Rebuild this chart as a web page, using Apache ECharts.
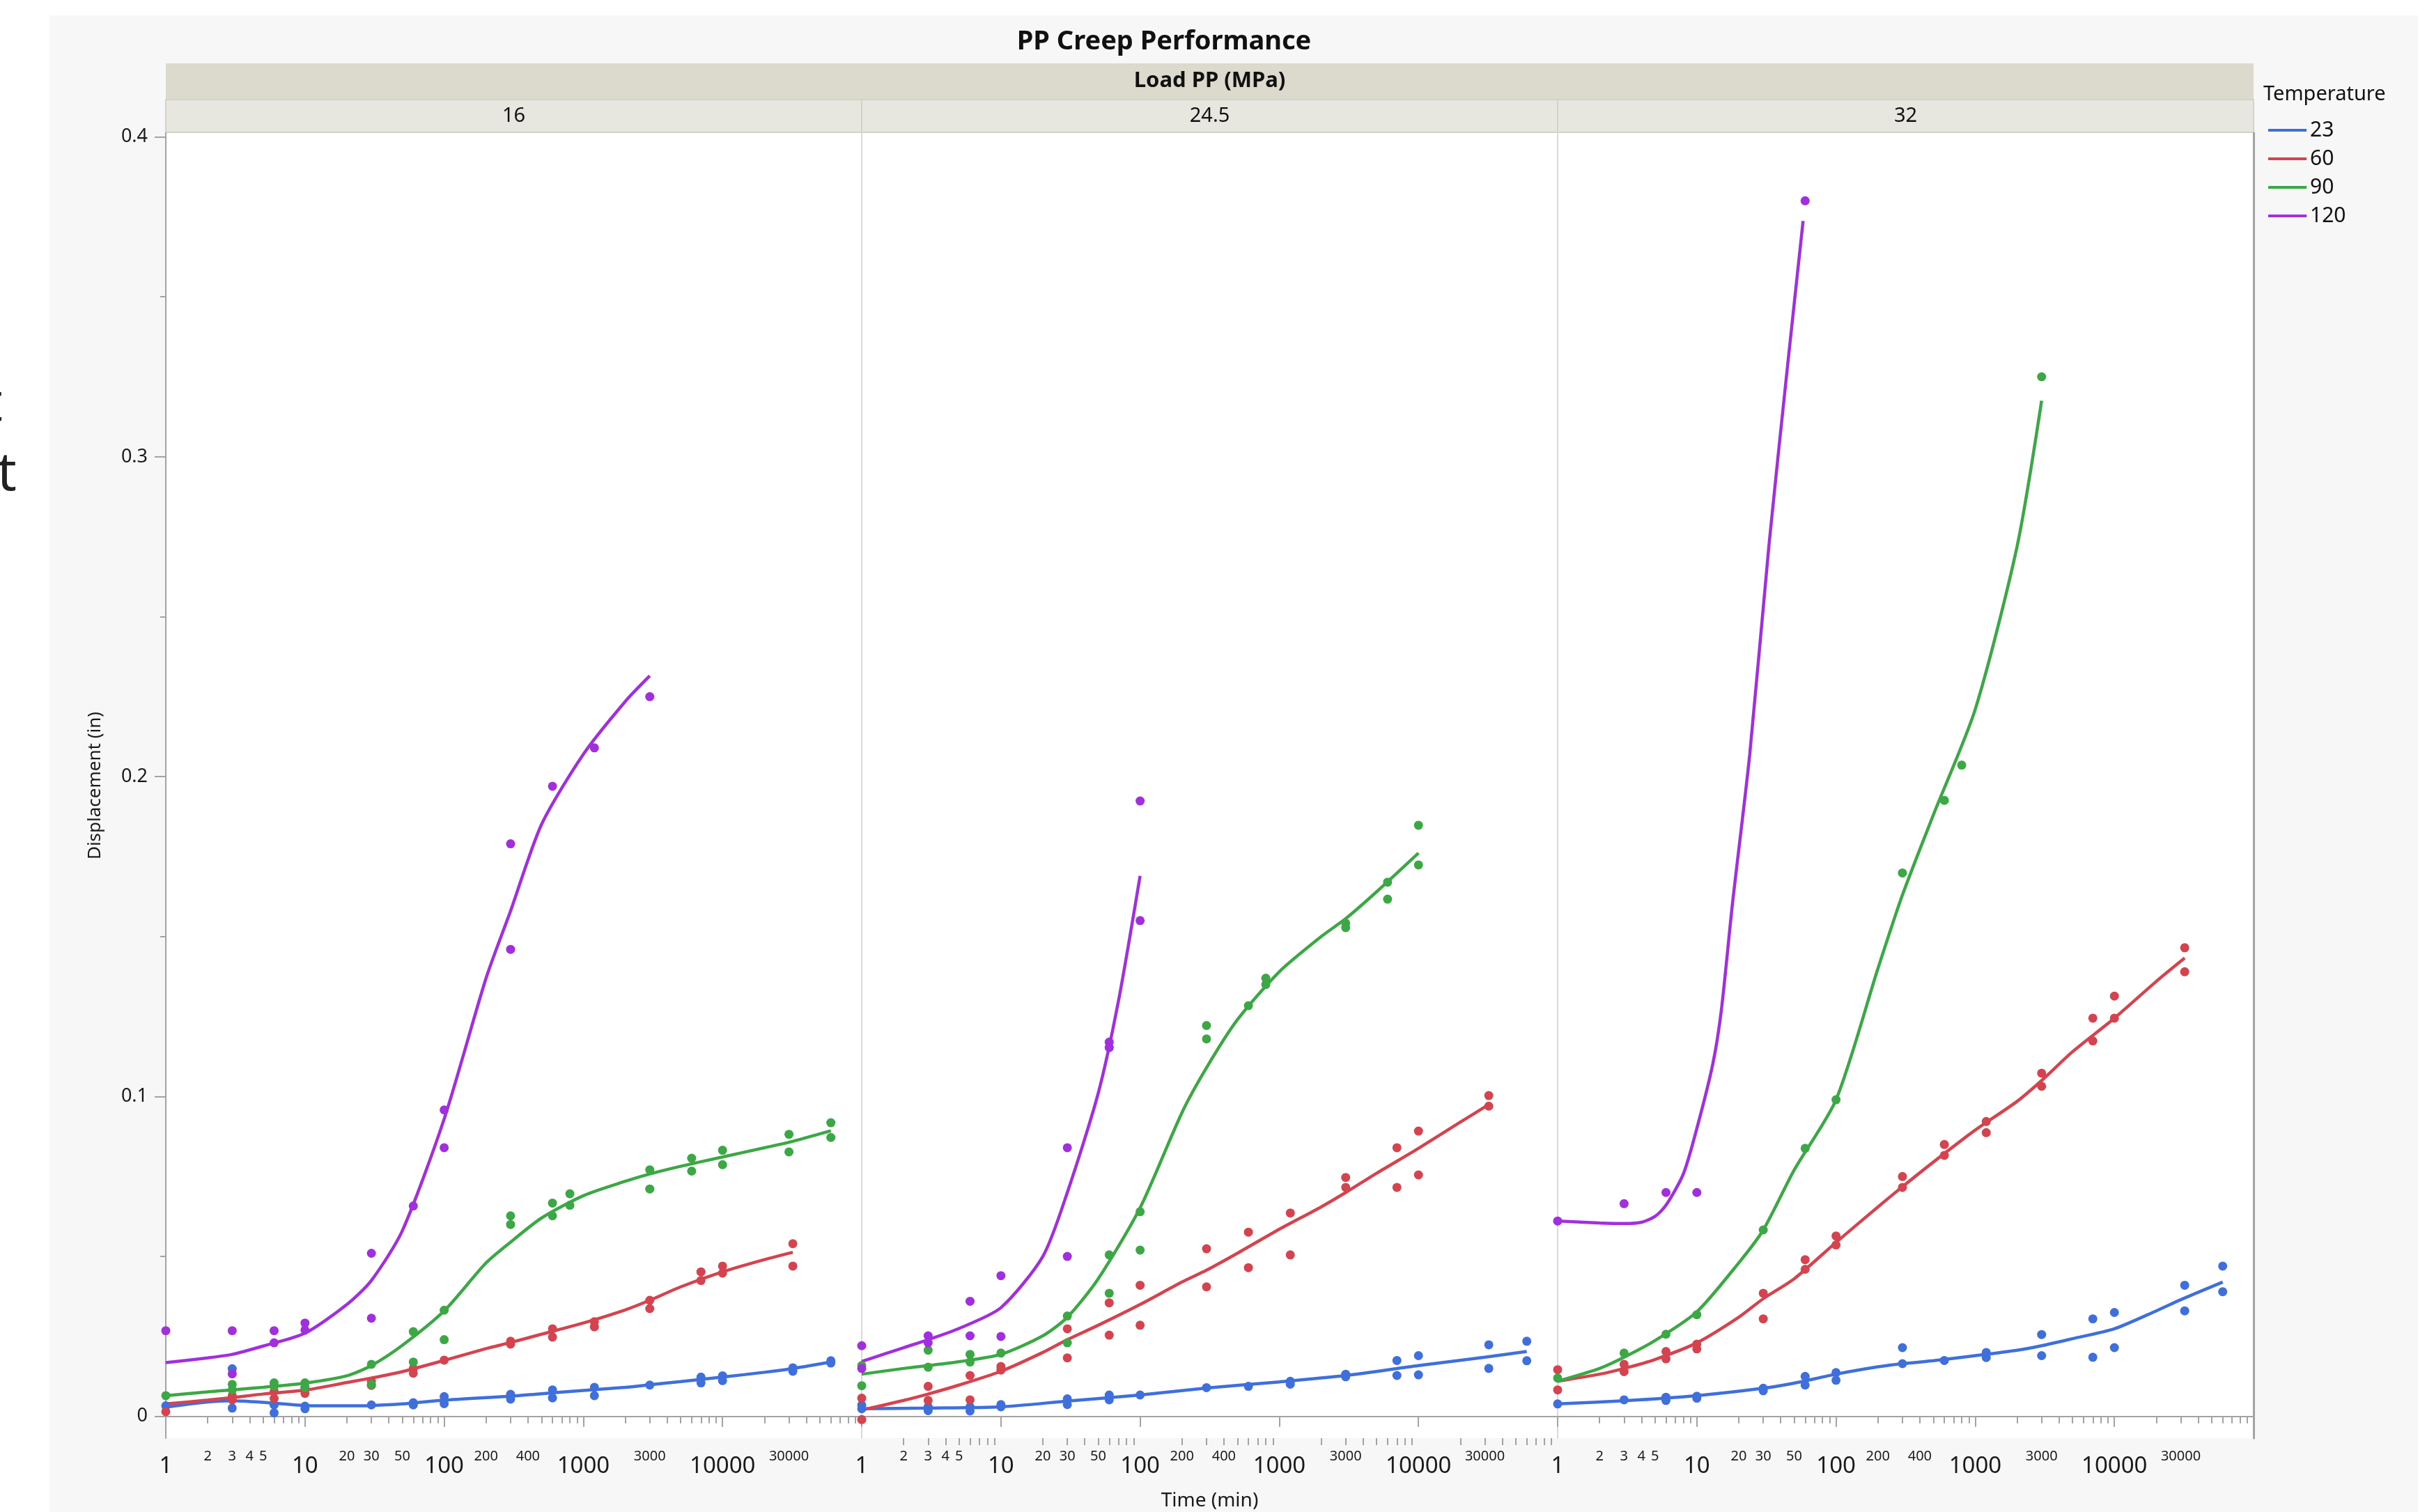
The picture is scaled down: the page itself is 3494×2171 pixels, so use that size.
<!DOCTYPE html>
<html>
<head>
<meta charset="utf-8">
<title>PP Creep Performance</title>
<script src="https://cdn.jsdelivr.net/npm/echarts@6/dist/echarts.min.js"></script>
<style>
  html, body { margin: 0; padding: 0; background: #fff; }
  #chart { width: 3494px; height: 2171px; }
</style>
</head>
<body>
<div id="chart"></div>
<script>
// facets and groups
const loads = ['16', '24.5', '32'];
const temps = ['23', '60', '90', '120'];
const tempColors = ['#3f6fdc', '#d5434f', '#3ba845', '#a22fdf'];

// axis ticks / labels
const bigLabels = [1, 10, 100, 1000, 10000];
const smallLabels = [2, 3, 4, 5, 20, 30, 50, 200, 400, 3000, 30000];
const majorTicks = [1, 10, 100, 1000, 10000, 100000];
const minorTicks = [2, 3, 4, 5, 6, 7, 8, 9, 20, 30, 40, 50, 60, 70, 80, 90,
  200, 300, 400, 500, 600, 700, 800, 900, 2000, 3000, 4000, 5000, 6000, 7000, 8000, 9000,
  20000, 30000, 40000, 50000, 60000, 70000, 80000, 90000];
const yMajor = [0, 0.1, 0.2, 0.3, 0.4];
const yMinor = [0.05, 0.15, 0.25, 0.35];

// ---- Load 16 MPa : measured points [time, displacement] ----
const pts16_23 = [[1,0.0033],[3,0.0149],[3,0.0026],[6,0.0036],[6,0.0011],[10,0.0032],[10,0.0024],[30,0.0036],[60,0.0043],[60,0.0036],[100,0.0062],[100,0.0040],[300,0.0069],[300,0.0054],[600,0.0083],[600,0.0058],[1200,0.0091],[1200,0.0065],[3000,0.0098],[7000,0.0123],[7000,0.0105],[10000,0.0127],[10000,0.0112],[32000,0.0152],[32000,0.0141],[60000,0.0174],[60000,0.0167]];
const pts16_60 = [[1,0.0015],[3,0.0065],[3,0.0052],[6,0.0078],[6,0.0056],[10,0.0090],[10,0.0072],[30,0.0110],[30,0.0097],[60,0.0150],[60,0.0135],[100,0.0176],[300,0.0235],[300,0.0226],[600,0.0274],[600,0.0248],[1200,0.0296],[1200,0.0280],[3000,0.0363],[3000,0.0337],[7000,0.0452],[7000,0.0425],[10000,0.0470],[10000,0.0448],[32000,0.0540],[32000,0.0470]];
const pts16_90 = [[1,0.0065],[3,0.0100],[3,0.0083],[6,0.0105],[6,0.0095],[10,0.0105],[10,0.0090],[30,0.0163],[30,0.0100],[60,0.0265],[60,0.0170],[100,0.0332],[100,0.0240],[300,0.0627],[300,0.0600],[600,0.0667],[600,0.0627],[800,0.0696],[800,0.0660],[3000,0.0771],[3000,0.0711],[6000,0.0807],[6000,0.0767],[10000,0.0832],[10000,0.0787],[30000,0.0882],[30000,0.0827],[60000,0.0918],[60000,0.0872]];
const pts16_120 = [[1,0.0268],[3,0.0268],[3,0.0133],[6,0.0268],[6,0.0230],[10,0.0292],[10,0.0270],[30,0.0510],[30,0.0307],[60,0.0658],[100,0.0958],[100,0.0840],[300,0.1790],[300,0.1460],[600,0.1970],[1200,0.2090],[3000,0.2250]];
// fitted curves
const fit16_23 = [[1,0.0029],[2,0.0045],[3,0.0049],[5,0.0044],[10,0.0034],[20,0.0033],[30,0.0034],[50,0.0039],[100,0.0051],[200,0.0059],[300,0.0063],[500,0.0071],[1000,0.0081],[2000,0.0091],[3000,0.0099],[5000,0.0109],[10000,0.0123],[20000,0.0138],[30000,0.0148],[60000,0.0170]];
const fit16_60 = [[1,0.0039],[2,0.0051],[3,0.0059],[5,0.0070],[10,0.0082],[20,0.0106],[30,0.0120],[50,0.0140],[100,0.0175],[200,0.0212],[300,0.0231],[500,0.0257],[1000,0.0292],[2000,0.0333],[3000,0.0363],[5000,0.0405],[10000,0.0452],[20000,0.0490],[32000,0.0513]];
const fit16_90 = [[1,0.0065],[2,0.0077],[3,0.0083],[5,0.0091],[10,0.0104],[20,0.0127],[30,0.0159],[50,0.0222],[100,0.0330],[200,0.0480],[300,0.0545],[500,0.0620],[1000,0.0690],[2000,0.0735],[3000,0.0758],[5000,0.0782],[10000,0.0811],[20000,0.0840],[30000,0.0857],[60000,0.0893]];
const fit16_120 = [[1,0.0168],[2,0.0183],[3,0.0194],[5,0.0220],[10,0.0260],[20,0.0350],[30,0.0425],[50,0.0580],[100,0.0930],[200,0.1370],[300,0.1580],[500,0.1850],[1000,0.2070],[2000,0.2235],[3000,0.2315]];

// ---- Load 24.5 MPa ----
const pts245_23 = [[1,0.0035],[1,0.0024],[3,0.0030],[3,0.0018],[6,0.0030],[6,0.0017],[10,0.0037],[10,0.0030],[30,0.0055],[30,0.0037],[60,0.0067],[60,0.0052],[100,0.0067],[300,0.0090],[600,0.0094],[1200,0.0110],[1200,0.0101],[3000,0.0132],[3000,0.0124],[7000,0.0175],[7000,0.0128],[10000,0.0190],[10000,0.0130],[32000,0.0224],[32000,0.0150],[60000,0.0235],[60000,0.0174]];
const pts245_60 = [[1,0.0057],[1,-0.0010],[3,0.0094],[3,0.0050],[6,0.0128],[6,0.0052],[10,0.0156],[10,0.0145],[30,0.0274],[30,0.0183],[60,0.0355],[60,0.0254],[100,0.0410],[100,0.0285],[300,0.0524],[300,0.0405],[600,0.0576],[600,0.0465],[1200,0.0636],[1200,0.0505],[3000,0.0747],[3000,0.0716],[7000,0.0840],[7000,0.0716],[10000,0.0892],[10000,0.0755],[32000,0.1003],[32000,0.0970]];
const pts245_90 = [[1,0.0159],[1,0.0096],[3,0.0207],[3,0.0154],[6,0.0194],[6,0.0170],[10,0.0198],[30,0.0314],[30,0.0230],[60,0.0505],[60,0.0385],[100,0.0640],[100,0.0520],[300,0.1222],[300,0.1180],[600,0.1284],[800,0.1370],[800,0.1350],[3000,0.1542],[3000,0.1528],[6000,0.1670],[6000,0.1617],[10000,0.1848],[10000,0.1724]];
const pts245_120 = [[1,0.0221],[1,0.0150],[3,0.0252],[3,0.0230],[6,0.0360],[6,0.0252],[10,0.0440],[10,0.0250],[30,0.0840],[30,0.0500],[60,0.1170],[60,0.1153],[100,0.1924],[100,0.1550]];
const fit245_23 = [[1,0.0024],[3,0.0026],[10,0.0030],[30,0.0048],[100,0.0067],[300,0.0089],[1000,0.0108],[3000,0.0128],[10000,0.0159],[30000,0.0185],[60000,0.0203]];
const fit245_60 = [[1,0.0020],[2,0.0050],[3,0.0070],[5,0.0098],[10,0.0141],[20,0.0200],[30,0.0240],[50,0.0285],[100,0.0350],[200,0.0420],[300,0.0457],[500,0.0510],[1000,0.0585],[2000,0.0655],[3000,0.0700],[5000,0.0760],[10000,0.0838],[20000,0.0920],[32000,0.0975]];
const fit245_90 = [[1,0.0132],[2,0.0150],[3,0.0159],[5,0.0171],[10,0.0194],[20,0.0252],[30,0.0310],[50,0.0430],[100,0.0652],[200,0.0950],[300,0.1090],[500,0.1240],[1000,0.1390],[2000,0.1500],[3000,0.1556],[5000,0.1640],[10000,0.1761]];
const fit245_120 = [[1,0.0172],[2,0.0215],[3,0.0240],[5,0.0275],[10,0.0340],[20,0.0500],[30,0.0700],[50,0.1010],[70,0.1300],[100,0.1690]];

// ---- Load 32 MPa ----
const pts32_23 = [[1,0.0039],[3,0.0052],[6,0.0060],[6,0.0050],[10,0.0063],[10,0.0057],[30,0.0088],[30,0.0080],[60,0.0125],[60,0.0098],[100,0.0137],[100,0.0113],[300,0.0215],[300,0.0165],[600,0.0175],[1200,0.0200],[1200,0.0184],[3000,0.0256],[3000,0.0190],[7000,0.0305],[7000,0.0185],[10000,0.0325],[10000,0.0215],[32000,0.0410],[32000,0.0330],[60000,0.0470],[60000,0.0390]];
const pts32_60 = [[1,0.0146],[1,0.0083],[3,0.0163],[3,0.0140],[6,0.0203],[6,0.0180],[10,0.0226],[10,0.0211],[30,0.0385],[30,0.0305],[60,0.0490],[60,0.0460],[100,0.0564],[100,0.0536],[300,0.0750],[300,0.0716],[600,0.0850],[600,0.0816],[1200,0.0922],[1200,0.0887],[3000,0.1073],[3000,0.1032],[7000,0.1245],[7000,0.1174],[10000,0.1314],[10000,0.1245],[32000,0.1465],[32000,0.1390]];
const pts32_90 = [[1,0.0120],[3,0.0198],[6,0.0257],[10,0.0318],[30,0.0583],[60,0.0838],[100,0.0990],[300,0.1699],[600,0.1926],[800,0.2036],[3000,0.3250]];
const pts32_120 = [[1,0.0611],[3,0.0665],[6,0.0700],[10,0.0700],[60,0.3800]];
const fit32_23 = [[1,0.0039],[3,0.0049],[10,0.0065],[30,0.0088],[50,0.0104],[100,0.0132],[200,0.0155],[300,0.0165],[500,0.0174],[1000,0.0190],[2000,0.0207],[3000,0.0221],[5000,0.0243],[10000,0.0274],[20000,0.0330],[30000,0.0365],[60000,0.0420]];
const fit32_60 = [[1,0.0110],[2,0.0132],[3,0.0150],[5,0.0178],[10,0.0230],[20,0.0310],[30,0.0368],[50,0.0430],[100,0.0544],[200,0.0655],[300,0.0718],[500,0.0795],[1000,0.0895],[2000,0.0985],[3000,0.1050],[5000,0.1140],[10000,0.1245],[20000,0.1360],[32000,0.1433]];
const fit32_90 = [[1,0.0110],[2,0.0150],[3,0.0185],[5,0.0237],[10,0.0327],[20,0.0480],[30,0.0583],[50,0.0770],[100,0.0990],[200,0.1400],[300,0.1630],[500,0.1880],[1000,0.2210],[2000,0.2720],[3000,0.3175]];
const fit32_120 = [[1,0.0611],[2,0.0605],[3,0.0603],[4,0.0607],[5,0.0625],[6,0.0660],[8,0.0758],[10,0.0900],[13,0.1100],[15,0.1270],[18,0.1600],[24,0.2070],[33,0.2725],[45,0.3290],[58,0.3737]];

const points = [
  [pts16_23, pts16_60, pts16_90, pts16_120],
  [pts245_23, pts245_60, pts245_90, pts245_120],
  [pts32_23, pts32_60, pts32_90, pts32_120]
];
const fits = [
  [fit16_23, fit16_60, fit16_90, fit16_120],
  [fit245_23, fit245_60, fit245_90, fit245_120],
  [fit32_23, fit32_60, fit32_90, fit32_120]
];

const FONT = 'Noto Sans';
const PLOT_L = 238, PLOT_T = 191, PANEL_W = 999, PLOT_H = 1874;
const Y_MIN = -0.0068, Y_MAX = 0.4012;
const AXIS_GRAY = '#a3a3a3';

const chart = echarts.init(document.getElementById('chart'));

const grids = [];
const xAxes = [];
const yAxes = [];
const series = [];
const yAxisOf = [];

loads.forEach((load, i) => {
  grids.push({
    left: PLOT_L + i * PANEL_W, top: PLOT_T, width: PANEL_W, height: PLOT_H,
    show: true, backgroundColor: '#fff', borderWidth: 0,
    containLabel: false, outerBoundsMode: 'none'
  });
  // main x axis: decades
  xAxes.push({
    type: 'log', logBase: 10, gridIndex: i, min: 1, max: 100000, position: 'bottom',
    axisLine: { show: true, lineStyle: { color: AXIS_GRAY, width: 2 } },
    axisTick: { show: true, customValues: majorTicks, length: 15, lineStyle: { color: AXIS_GRAY, width: 2 } },
    axisLabel: {
      customValues: bigLabels, showMinLabel: true, fontSize: 33, margin: 24,
      color: '#1a1a1a', fontFamily: FONT, formatter: v => String(Math.round(v))
    },
    splitLine: { show: false },
    name: i === 1 ? 'Time (min)' : '', nameLocation: 'middle', nameGap: 76,
    nameTextStyle: { fontSize: 28, color: '#1a1a1a', fontFamily: FONT }
  });
  // secondary x axis: minor ticks and small labels
  xAxes.push({
    type: 'log', logBase: 10, gridIndex: i, min: 1, max: 100000, position: 'bottom',
    axisLine: { show: false },
    axisTick: { show: true, customValues: minorTicks, length: 10, lineStyle: { color: AXIS_GRAY, width: 2 } },
    axisLabel: {
      customValues: smallLabels, fontSize: 20, margin: 16,
      color: '#1a1a1a', fontFamily: FONT, formatter: v => String(Math.round(v))
    },
    splitLine: { show: false }
  });

  yAxisOf.push(yAxes.length);
  if (i === 0) {
    yAxes.push({
      type: 'value', gridIndex: 0, min: Y_MIN, max: Y_MAX, position: 'left',
      axisLine: { show: true, lineStyle: { color: AXIS_GRAY, width: 2 } },
      axisTick: { show: true, customValues: yMajor, length: 16, lineStyle: { color: AXIS_GRAY, width: 2 } },
      axisLabel: { customValues: yMajor, fontSize: 27, margin: 26, color: '#1a1a1a', fontFamily: FONT, formatter: v => String(Math.round(v * 10) / 10) },
      splitLine: { show: false },
      name: 'Displacement (in)', nameLocation: 'middle', nameGap: 88, nameRotate: 90,
      nameTextStyle: { fontSize: 26, color: '#1a1a1a', fontFamily: FONT }
    });
    yAxes.push({
      type: 'value', gridIndex: 0, min: Y_MIN, max: Y_MAX, position: 'left',
      axisLine: { show: false },
      axisTick: { show: true, customValues: yMinor, length: 8, lineStyle: { color: AXIS_GRAY, width: 2 } },
      axisLabel: { show: false }, splitLine: { show: false }
    });
  } else {
    yAxes.push({
      type: 'value', gridIndex: i, min: Y_MIN, max: Y_MAX, position: 'left',
      axisLine: { show: true, lineStyle: { color: '#d9d9d9', width: 2 } },
      axisTick: { show: false }, axisLabel: { show: false }, splitLine: { show: false }
    });
  }
  if (i === loads.length - 1) {
    yAxes.push({
      type: 'value', gridIndex: i, min: Y_MIN, max: Y_MAX, position: 'right',
      axisLine: { show: true, lineStyle: { color: AXIS_GRAY, width: 3 } },
      axisTick: { show: false }, axisLabel: { show: false }, splitLine: { show: false }
    });
  }

  temps.forEach((t, j) => {
    series.push({
      type: 'line', name: t, xAxisIndex: 2 * i, yAxisIndex: yAxisOf[i],
      data: fits[i][j], smooth: 0.25,
      symbol: 'none', showSymbol: false,
      lineStyle: { color: tempColors[j], width: 4.5 }, itemStyle: { color: tempColors[j] },
      z: 2, silent: true
    });
    series.push({
      type: 'scatter', name: t, xAxisIndex: 2 * i, yAxisIndex: yAxisOf[i],
      data: points[i][j], symbol: 'circle', symbolSize: 13,
      itemStyle: { color: tempColors[j], opacity: 1 }, z: 3
    });
  });
});

// header bands and page frame
const graphics = [
  { type: 'rect', shape: { x: 0, y: 0, width: 71, height: 2171 }, style: { fill: '#fff' } },
  { type: 'rect', shape: { x: 0, y: 0, width: 3494, height: 22 }, style: { fill: '#fff' } },
  { type: 'rect', shape: { x: 3471, y: 0, width: 23, height: 2171 }, style: { fill: '#fff' } },
  { type: 'text', x: -24, y: 621, style: { text: 't', fontSize: 77, fontFamily: FONT, fill: '#222', verticalAlign: 'bottom' } },
  { type: 'text', x: -4, y: 721, style: { text: 't', fontSize: 77, fontFamily: FONT, fill: '#222', verticalAlign: 'bottom' } },
  { type: 'text', x: 1671, y: 60, style: { text: 'PP Creep Performance', fontSize: 38, fontWeight: 'bold', fontFamily: FONT, fill: '#111', align: 'center', verticalAlign: 'middle' } },
  { type: 'rect', shape: { x: PLOT_L, y: 91, width: PANEL_W * 3, height: 51 }, style: { fill: '#dcdacd' } },
  { type: 'text', x: PLOT_L + PANEL_W * 1.5, y: 116, style: { text: 'Load PP (MPa)', fontSize: 31, fontWeight: 'bold', fontFamily: FONT, fill: '#111', align: 'center', verticalAlign: 'middle' } },
  { type: 'text', x: 3249, y: 136, style: { text: 'Temperature', fontSize: 29, fontFamily: FONT, fill: '#111', verticalAlign: 'middle' } }
];
loads.forEach((load, i) => {
  graphics.push({ type: 'rect', shape: { x: PLOT_L + i * PANEL_W, y: 143, width: PANEL_W, height: 47 }, style: { fill: '#e8e7df', stroke: '#d4d3ca', lineWidth: 2 } });
  graphics.push({ type: 'text', x: PLOT_L + i * PANEL_W + PANEL_W / 2, y: 167, style: { text: load, fontSize: 29, fontFamily: FONT, fill: '#111', align: 'center', verticalAlign: 'middle' } });
});

chart.setOption({
  animation: false,
  backgroundColor: '#f7f7f7',
  textStyle: { fontFamily: FONT },
  grid: grids,
  xAxis: xAxes,
  yAxis: yAxes,
  legend: {
    data: temps, orient: 'vertical', left: 3251, top: 167,
    icon: 'rect', itemWidth: 55, itemHeight: 4, itemGap: 11,
    textStyle: { fontSize: 30, color: '#111', fontFamily: FONT },
    selectedMode: false
  },
  graphic: graphics,
  series: series
});
</script>
</body>
</html>
